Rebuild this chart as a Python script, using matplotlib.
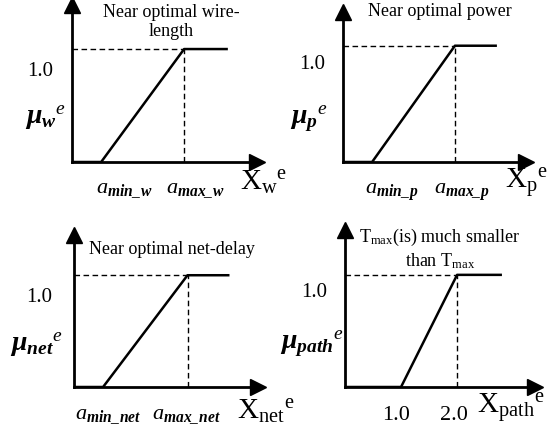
import matplotlib.pyplot as plt

plt.rcParams['font.family'] = 'Liberation Serif'
plt.rcParams['mathtext.fontset'] = 'custom'
plt.rcParams['mathtext.rm'] = 'Liberation Serif'
plt.rcParams['mathtext.it'] = 'Liberation Serif:italic'
plt.rcParams['mathtext.bf'] = 'Liberation Serif:bold'
plt.rcParams['mathtext.bfit'] = 'Liberation Serif:italic:bold'

# membership value at each breakpoint (same for all four)
mu = [0, 0, 1, 1]

# breakpoints on the x axis: origin, a_min, a_max, end of plateau
x_w = [0, 0.52, 2.0, 2.78]
x_p = [0, 0.52, 2.0, 2.75]
x_net = [0, 0.52, 2.03, 2.78]
x_path = [0, 1.0, 2.0, 2.8]

titles = ['Near optimal wire-\nlength',
          'Near optimal power',
          'Near optimal net-delay',
          'T$_{\\mathrm{max}}$(is) much smaller\nthan T$_{\\mathrm{max}}$']
ylabels = [r'$\mathbfit{\mu}_{\mathbfit{w}}{}^{\mathit{e}}$',
           r'$\mathbfit{\mu}_{\mathbfit{p}}{}^{\mathit{e}}$',
           r'$\mathbfit{\mu}_{\mathbfit{net}}{}^{\mathit{e}}$',
           r'$\mathbfit{\mu}_{\mathbfit{path}}{}^{\mathit{e}}$']
xlabels = [r'$\mathrm{X}_{\mathrm{w}}{}^{\mathrm{e}}$',
           r'$\mathrm{X}_{\mathrm{p}}{}^{\mathrm{e}}$',
           r'$\mathrm{X}_{\mathrm{net}}{}^{\mathrm{e}}$',
           r'$\mathrm{X}_{\mathrm{path}}{}^{\mathrm{e}}$']
ticklabels = [[r'$\mathit{a}_{\mathbfit{min\_w}}$', r'$\mathit{a}_{\mathbfit{max\_w}}$'],
              [r'$\mathit{a}_{\mathbfit{min\_p}}$', r'$\mathit{a}_{\mathbfit{max\_p}}$'],
              [r'$\mathit{a}_{\mathbfit{min\_net}}$', r'$\mathit{a}_{\mathbfit{max\_net}}$'],
              ['1.0', '2.0']]

W, H = 553, 432
# layout in pixels: origin x, origin y (from top), axis length x, axis length y, xmax, ymax
layout = [(72, 162, 185, 157, 3.30, 1.39),
          (343, 162, 183, 150, 3.27, 1.29),
          (74, 387, 184, 152, 3.29, 1.36),
          (345, 387, 190, 157, 3.39, 1.40)]
# label offsets in pixels
tick_off = [[(23, -28), (11, -28)], [(20, -30), (7, -30)], [(5, -30), (-1, -30)], [(-5, -28), (-3, -28)]]
one_off = [(-19, -22), (-18, -19), (-22, -22), (-18, -18)]
mu_off = [(-6, 44), (-15, 44), (-11, 42), (-1, 44)]
xl_off = [(-17, -21), (-21, -21), (-21, -25), (-58, -21)]
title_pos = [(171, 22), (440, 11), (172, 250), (440, 249)]

fig = plt.figure(figsize=(W / 100, H / 100), dpi=100)
series = [x_w, x_p, x_net, x_path]

for i, xs in enumerate(series):
    x0, y0, lx, ly, xmax, ymax = layout[i]
    ax = fig.add_axes([x0 / W, (H - y0) / H, lx / W, ly / H])
    ax.set_xlim(0, xmax)
    ax.set_ylim(0, ymax)
    for s in ['top', 'right']:
        ax.spines[s].set_visible(False)
    for s in ['left', 'bottom']:
        ax.spines[s].set_linewidth(2)
    ax.plot(1, 0, '>k', transform=ax.transAxes, clip_on=False, markersize=11)
    ax.plot(0, 1, '^k', transform=ax.transAxes, clip_on=False, markersize=11)
    ax.set_xticks([])
    ax.set_yticks([])
    ax.patch.set_alpha(0)

    ax.plot(xs, mu, color='black', lw=1.8, solid_capstyle='butt')
    ax.plot([0, xs[2]], [mu[2], mu[2]], color='black', lw=1, ls=(0, (4, 2.5)))
    ax.plot([xs[2], xs[2]], [0, mu[2]], color='black', lw=1, ls=(0, (4, 2.5)))

    for j, k in enumerate([1, 2]):
        ax.annotate(ticklabels[i][j], xy=(xs[k], 0), xytext=tick_off[i][j],
                    textcoords='offset pixels', ha='center', va='center', fontsize=16)
    ax.annotate('1.0', xy=(0, mu[2]), xytext=one_off[i], textcoords='offset pixels',
                ha='right', va='center', fontsize=15)
    ax.annotate(ylabels[i], xy=(0, 0), xytext=mu_off[i], textcoords='offset pixels',
                ha='right', va='center', fontsize=20)
    ax.annotate(xlabels[i], xy=(1, 0), xycoords='axes fraction', xytext=xl_off[i],
                textcoords='offset pixels', ha='left', va='center', fontsize=21)
    tx, ty = title_pos[i]
    fig.text(tx / W, 1 - ty / H, titles[i], ha='center', va='center', fontsize=13,
             linespacing=1.2)

fig.savefig('out.png', dpi=100)
